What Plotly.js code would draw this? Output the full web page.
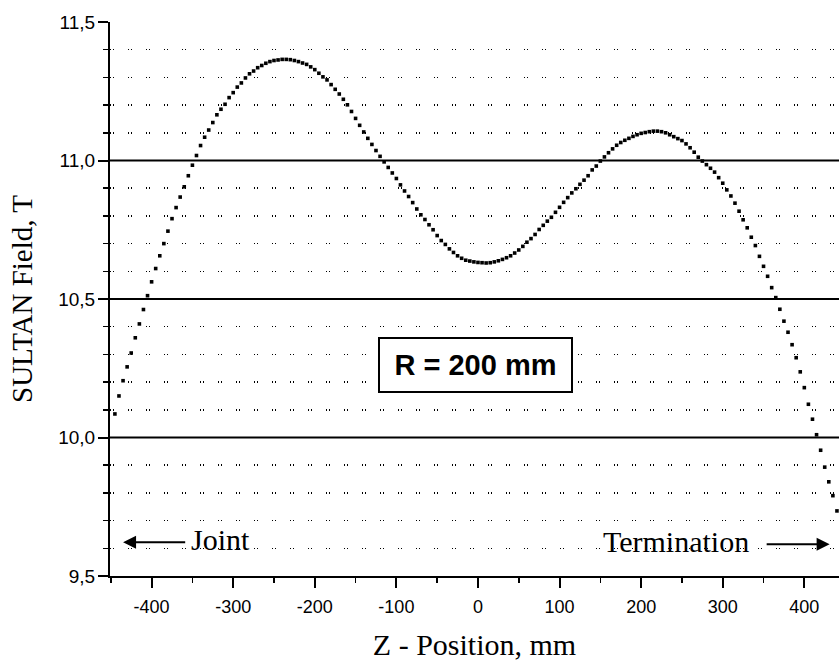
<!DOCTYPE html>
<html>
<head>
<meta charset="utf-8">
<script src="https://cdn.plot.ly/plotly-3.0.1.min.js"></script>
<style>html,body{margin:0;padding:0;background:#fff;}#chart{width:839px;height:661px;}</style>
</head>
<body>
<div id="chart"></div>
<script>
// Z position (mm)
var zPos = [
 -445,-440,-435,-430,-425,-420,-415,-410,-405,-400,
 -395,-390,-385,-380,-375,-370,-365,-360,-355,-350,
 -345,-340,-335,-330,-325,-320,-315,-310,-305,-300,
 -295,-290,-285,-280,-275,-270,-265,-260,-255,-250,
 -245,-240,-235,-230,-225,-220,-215,-210,-205,-200,
 -195,-190,-185,-180,-175,-170,-165,-160,-155,-150,
 -145,-140,-135,-130,-125,-120,-115,-110,-105,-100,
 -95,-90,-85,-80,-75,-70,-65,-60,-55,-50,
 -45,-40,-35,-30,-25,-20,-15,-10,-5,0,
 5,10,15,20,25,30,35,40,45,50,
 55,60,65,70,75,80,85,90,95,100,
 105,110,115,120,125,130,135,140,145,150,
 155,160,165,170,175,180,185,190,195,200,
 205,210,215,220,225,230,235,240,245,250,
 255,260,265,270,275,280,285,290,295,300,
 305,310,315,320,325,330,335,340,345,350,
 355,360,365,370,375,380,385,390,395,400,
 405,410,415,420,425,430,435,440
];
// SULTAN field (T)
var fieldT = [
 10.085,10.150,10.205,10.255,10.305,10.360,10.410,10.462,10.512,10.562,
 10.610,10.656,10.700,10.745,10.790,10.830,10.868,10.905,10.945,10.983,
 11.018,11.054,11.084,11.110,11.137,11.165,11.185,11.203,11.227,11.245,
 11.265,11.280,11.298,11.313,11.323,11.335,11.343,11.351,11.357,11.361,
 11.363,11.365,11.365,11.364,11.361,11.357,11.352,11.347,11.338,11.328,
 11.315,11.302,11.291,11.274,11.257,11.240,11.221,11.201,11.177,11.152,
 11.127,11.103,11.080,11.058,11.036,11.015,10.995,10.975,10.955,10.935,
 10.912,10.890,10.870,10.848,10.825,10.804,10.787,10.768,10.750,10.729,
 10.711,10.697,10.681,10.668,10.656,10.647,10.640,10.637,10.634,10.632,
 10.631,10.630,10.631,10.634,10.638,10.643,10.649,10.656,10.666,10.677,
 10.690,10.705,10.718,10.733,10.751,10.766,10.781,10.795,10.813,10.831,
 10.849,10.866,10.883,10.898,10.914,10.929,10.945,10.966,10.980,10.998,
 11.013,11.028,11.042,11.055,11.065,11.073,11.080,11.087,11.093,11.098,
 11.101,11.104,11.106,11.106,11.104,11.100,11.093,11.086,11.079,11.072,
 11.060,11.046,11.030,11.012,10.998,10.985,10.972,10.958,10.938,10.918,
 10.894,10.872,10.846,10.817,10.786,10.757,10.723,10.693,10.654,10.618,
 10.582,10.541,10.505,10.463,10.420,10.380,10.335,10.288,10.237,10.180,
 10.120,10.066,10.010,9.954,9.893,9.840,9.790,9.735
];
var xTickVals = [-400,-300,-200,-100,0,100,200,300,400];
var xTickLabels = ['-400','-300','-200','-100','0','100','200','300','400'];
var solidLevels = [10.0, 10.5, 11.0];

var trace = {
  x: zPos, y: fieldT, type: 'scatter', mode: 'markers',
  marker: {symbol: 'square', size: 3.6, color: '#000'},
  hoverinfo: 'skip'
};

var shapes = solidLevels.map(function (v) {
  return {type: 'line', xref: 'paper', yref: 'y', x0: 0, x1: 1, y0: v, y1: v,
          line: {color: '#000', width: 2}, layer: 'below'};
});

var serif = 'Liberation Serif, Times New Roman, serif';
var sans = 'Liberation Sans, Arial, sans-serif';

var layout = {
  width: 839, height: 661,
  margin: {l: 110, r: 0, t: 22, b: 85, pad: 0},
  paper_bgcolor: '#fff', plot_bgcolor: '#fff',
  separators: ',.',
  showlegend: false,
  shapes: shapes,
  xaxis: {
    range: [-451, 442.5],
    tickmode: 'array', tickvals: xTickVals, ticktext: xTickLabels,
    ticks: 'outside', ticklen: 10, tickwidth: 2, tickcolor: '#000',
    ticklabelstandoff: 3,
    showline: true, linecolor: '#000', linewidth: 2,
    showgrid: false, zeroline: false,
    tickfont: {family: sans, size: 18, color: '#000'},
    minor: {tickmode: 'linear', tick0: 0, dtick: 50, ticks: 'outside', ticklen: 5, tickwidth: 1.5, tickcolor: '#000', showgrid: false},
    title: {text: 'Z - Position, mm', font: {family: serif, size: 30, color: '#000'}, standoff: 20}
  },
  yaxis: {
    range: [9.5, 11.5],
    tickmode: 'linear', tick0: 9.5, dtick: 0.5, tickformat: '.1f',
    ticks: 'outside', ticklen: 10, tickwidth: 2, tickcolor: '#000',
    ticklabelstandoff: -1,
    showline: true, linecolor: '#000', linewidth: 2,
    showgrid: false, zeroline: false,
    tickfont: {family: sans, size: 19, color: '#000'},
    minor: {tickmode: 'linear', tick0: 9.5, dtick: 0.1, ticks: 'outside', ticklen: 5, tickwidth: 1.5, tickcolor: '#000',
            showgrid: true, gridcolor: '#000', gridwidth: 1.5, griddash: '1px,2px,1px,14px'},
    title: {text: 'SULTAN Field, T', font: {family: serif, size: 29, color: '#000'}, standoff: 17}
  },
  annotations: [
    {x: -3, y: 10.26, xref: 'x', yref: 'y', text: '<b>R = 200 mm</b>', showarrow: false,
     font: {family: sans, size: 29, color: '#000'}, bgcolor: '#fff',
     bordercolor: '#000', borderwidth: 2, borderpad: 0, width: 191, height: 52},
    {x: -354, y: 9.63, xref: 'x', yref: 'y', text: 'Joint', showarrow: false, xanchor: 'left',
     font: {family: serif, size: 30, color: '#000'}},
    {x: -435, y: 9.622, ax: -357, ay: 9.622, xref: 'x', yref: 'y', axref: 'x', ayref: 'y',
     text: '', showarrow: true, arrowhead: 2, arrowsize: 1.3, arrowwidth: 2, arrowcolor: '#000'},
    {x: 151, y: 9.625, xref: 'x', yref: 'y', text: 'Termination', showarrow: false, xanchor: 'left',
     font: {family: serif, size: 30, color: '#000'}},
    {x: 431, y: 9.615, ax: 352, ay: 9.615, xref: 'x', yref: 'y', axref: 'x', ayref: 'y',
     text: '', showarrow: true, arrowhead: 2, arrowsize: 1.3, arrowwidth: 2, arrowcolor: '#000'}
  ]
};

Plotly.newPlot('chart', [trace], layout, {staticPlot: true, displayModeBar: false});
</script>
</body>
</html>
